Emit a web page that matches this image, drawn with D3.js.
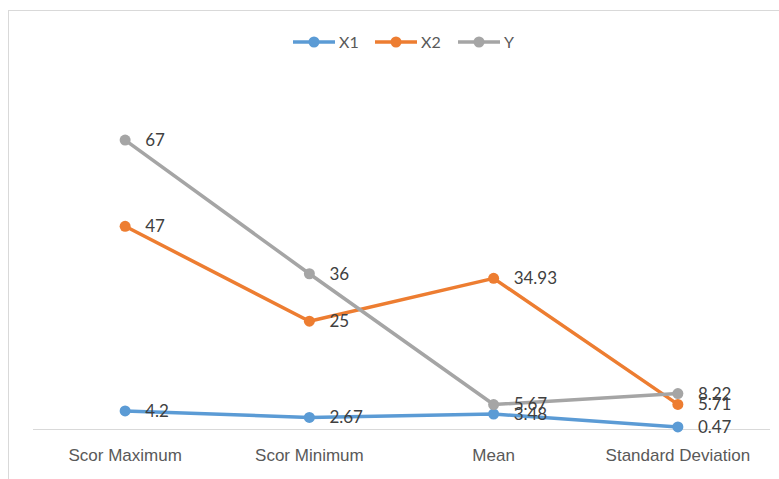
<!DOCTYPE html>
<html>
<head>
<meta charset="utf-8">
<script src="https://cdn.jsdelivr.net/npm/d3@7"></script>
<style>
  body { margin: 0; background: #fff; }
  svg { display: block; font-family: Lato, "Open Sans", sans-serif; }
</style>
</head>
<body>
<div id="chart"></div>
<script>
// data
const categories = ["Scor Maximum", "Scor Minimum", "Mean", "Standard Deviation"];
const seriesNames = ["X1", "X2", "Y"];
const x1Values = [4.2, 2.67, 3.48, 0.47];
const x2Values = [47, 25, 34.93, 5.71];
const yValues = [67, 36, 5.67, 8.22];
const colors = ["#5B9BD5", "#ED7D31", "#A5A5A5"];

const series = [x1Values, x2Values, yValues].map((values, i) => ({
  name: seriesNames[i],
  color: colors[i],
  values: values.map((v, j) => ({ cat: categories[j], value: v })),
}));

const width = 779;
const height = 479;
const margin = { top: 84, right: 9, bottom: 50, left: 33 };

const svg = d3
  .select("#chart")
  .append("svg")
  .attr("width", width)
  .attr("height", height);

// chart border
svg
  .append("rect")
  .attr("x", 8.5)
  .attr("y", 10.5)
  .attr("width", width + 20)
  .attr("height", height + 20)
  .attr("fill", "none")
  .attr("stroke", "#d9d9d9");

const xScale = d3
  .scaleBand()
  .domain(categories)
  .range([margin.left, width - margin.right]);

const yScale = d3
  .scaleLinear()
  .domain([0, 80])
  .range([height - margin.bottom, margin.top]);

const cx = (d) => xScale(d.cat) + xScale.bandwidth() / 2;

// baseline
svg
  .append("line")
  .attr("x1", margin.left)
  .attr("x2", width - margin.right)
  .attr("y1", yScale(0) + 0.5)
  .attr("y2", yScale(0) + 0.5)
  .attr("stroke", "#d9d9d9");

// category axis
const xAxis = svg
  .append("g")
  .attr("transform", `translate(0, ${yScale(0)})`)
  .call(d3.axisBottom(xScale).tickSize(0).tickPadding(20));
xAxis.select(".domain").remove();
xAxis
  .selectAll("text")
  .attr("fill", "#595959")
  .style("font-size", "17px");

const line = d3
  .line()
  .x(cx)
  .y((d) => yScale(d.value));

const g = svg.selectAll("g.series").data(series).join("g").attr("class", "series");

g.append("path")
  .attr("d", (s) => line(s.values))
  .attr("fill", "none")
  .attr("stroke", (s) => s.color)
  .attr("stroke-width", 3.5)
  .attr("stroke-linejoin", "round");

g.selectAll("circle")
  .data((s) => s.values.map((v) => ({ ...v, color: s.color })))
  .join("circle")
  .attr("cx", cx)
  .attr("cy", (d) => yScale(d.value))
  .attr("r", 5.5)
  .attr("fill", (d) => d.color);

// data labels
g.selectAll("text")
  .data((s) => s.values)
  .join("text")
  .attr("x", (d) => cx(d) + 20)
  .attr("y", (d) => yScale(d.value))
  .attr("dy", "0.35em")
  .attr("fill", "#404040")
  .style("font-size", "17px")
  .text((d) => d.value);

// legend
const legendX = [293, 375, 458];
const legend = svg
  .append("g")
  .selectAll("g")
  .data(series)
  .join("g")
  .attr("transform", (d, i) => `translate(${legendX[i]}, 42)`);

legend
  .append("line")
  .attr("x1", 0)
  .attr("x2", 42)
  .attr("stroke", (d) => d.color)
  .attr("stroke-width", 3.5);

legend
  .append("circle")
  .attr("cx", 21)
  .attr("r", 5.5)
  .attr("fill", (d) => d.color);

legend
  .append("text")
  .attr("x", 46)
  .attr("dy", "0.35em")
  .attr("fill", "#595959")
  .style("font-size", "16px")
  .text((d) => d.name);
</script>
</body>
</html>
